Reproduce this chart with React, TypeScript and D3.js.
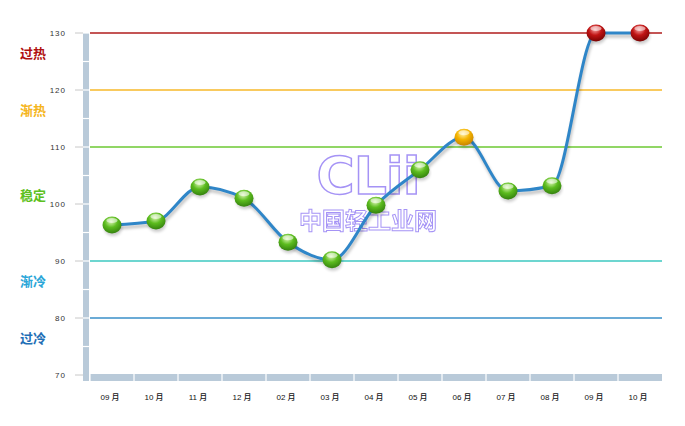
import React from "react";
import * as d3 from "d3";

const months = ["09月", "10月", "11月", "12月", "02月", "03月", "04月", "05月", "06月", "07月", "08月", "09月", "10月"];
const values = [96.3, 97.0, 103.0, 101.0, 93.3, 90.2, 99.8, 106.0, 111.7, 102.3, 103.2, 130, 130];
const pointKinds = ["g", "g", "g", "g", "g", "g", "g", "g", "y", "g", "g", "r", "r"];
const yTicks = [70, 80, 90, 100, 110, 120, 130];
const refLevels = [130, 120, 110, 90, 80];
const refColors = ["#b01c1c", "#f7b928", "#6cc832", "#3cc8c0", "#3a8fc8"];
const zoneLabels = ["过热", "渐热", "稳定", "渐冷", "过冷"];
const zoneValues = [126.5, 116.5, 101.5, 86.5, 76.5];
const zoneColors = ["#b01010", "#f5b51c", "#5cc020", "#2aa6d8", "#1f6fb6"];

const W = 685, H = 426;
const x0 = 90, x1 = 662, yTop = 33, yBot = 375;

export default function App() {
  const x = d3.scaleBand<number>().domain(months.map((_, i) => i)).range([x0, x1]);
  const y = d3.scaleLinear().domain([70, 130]).range([yBot, yTop]);
  const cx = (i: number) => (x(i) as number) + x.bandwidth() / 2;
  const line = d3.line<number>().x((_, i) => cx(i)).y((d) => y(d)).curve(d3.curveMonotoneX);
  const path = line(values) || "";
  const halfTicks = d3.range(70, 131, 5);
  const grads: Record<string, [string, string, string]> = {
    g: ["#d8f5b0", "#5cbc1e", "#2f7a0c"],
    y: ["#fff1a8", "#f4b400", "#c07a00"],
    r: ["#f7a0a0", "#c01414", "#700000"],
  };
  return (
    <svg width={W} height={H} style={{ position: "absolute", left: 0, top: 0, fontFamily: "Arial, 'Liberation Sans', sans-serif" }}>
      <defs>
        {Object.entries(grads).map(([k, c]) => (
          <radialGradient key={k} id={"g-" + k} cx="0.45" cy="0.3" r="0.75">
            <stop offset="0" stopColor={c[0]} />
            <stop offset="0.45" stopColor={c[1]} />
            <stop offset="1" stopColor={c[2]} />
          </radialGradient>
        ))}
        <filter id="sh" x="-10%" y="-10%" width="120%" height="130%">
          <feGaussianBlur stdDeviation="1.5" />
        </filter>
      </defs>
      <rect width={W} height={H} fill="#fff" />
      {/* left axis bar */}
      <rect x={83} y={yTop} width={6} height={yBot - yTop} fill="#b9cad9" />
      {halfTicks.map((v) => (
        <line key={"hs" + v} x1={83} x2={89} y1={y(v)} y2={y(v)} stroke="#fff" strokeWidth={1.2} />
      ))}
      {/* bottom axis bar */}
      <rect x={83} y={yBot - 1} width={6} height={7} fill="#b9cad9" />
      <rect x={x0} y={yBot - 1} width={x1 - x0} height={7} fill="#b9cad9" />
      {months.map((_, i) => (
        <line key={"vs" + i} x1={x(i) as number} x2={x(i) as number} y1={yBot - 1} y2={yBot + 6} stroke="#fff" strokeWidth={1.2} />
      ))}
      {/* y ticks */}
      {yTicks.map((v) => (
        <g key={"t" + v}>
          <line x1={75} x2={83} y1={y(v)} y2={y(v)} stroke="#c8c8c8" />
          <text x={66} y={y(v) + 3} fontSize={8} textAnchor="end" fill="#333" letterSpacing={1}>{v}</text>
        </g>
      ))}
      {/* reference lines */}
      {refLevels.map((v, i) => (
        <line key={"r" + v} x1={x0} x2={x1} y1={y(v)} y2={y(v)} stroke={refColors[i]} strokeWidth={1.6} />
      ))}
      {/* zone labels */}
      {zoneLabels.map((s, i) => (
        <text key={s + i} x={20} y={y(zoneValues[i]) + 5} fontSize={13} fontWeight="bold" fill={zoneColors[i]}
          fontFamily="'Noto Sans CJK SC', sans-serif">{s}</text>
      ))}
      {/* month labels */}
      {months.map((m, i) => (
        <text key={"m" + i} x={cx(i) - 2} y={400} fontSize={8} textAnchor="middle" fill="#111" fontWeight="500"
          fontFamily="Arial, 'Noto Sans CJK SC', sans-serif">{m.slice(0, 2) + " " + m.slice(2)}</text>
      ))}
      {/* watermark */}
      <g opacity={0.6}>
        <text x={368} y={194} textAnchor="middle" fontSize={52} fontWeight="bold" fill="none" stroke="#6a4cf0" strokeWidth={1.5}
          fontFamily="'DejaVu Sans', sans-serif" letterSpacing={-1}>CLii</text>
        <text x={368} y={229} textAnchor="middle" fontSize={23} fontWeight="bold" fill="none" stroke="#6a4cf0" strokeWidth={1}
          fontFamily="'Noto Sans CJK SC', sans-serif">中国轻工业网</text>
      </g>
      {/* line shadow */}
      <path d={path} transform="translate(1,3)" fill="none" stroke="#000" strokeOpacity={0.25} strokeWidth={3} filter="url(#sh)" />
      <path d={path} fill="none" stroke="#2f86c8" strokeWidth={3} />
      {/* markers */}
      {values.map((v, i) => (
        <g key={"p" + i}>
          <ellipse cx={cx(i) + 1} cy={y(v) + 3} rx={9} ry={8} fill="#000" opacity={0.2} filter="url(#sh)" />
          <ellipse cx={cx(i)} cy={y(v)} rx={9.5} ry={8.5} fill={`url(#g-${pointKinds[i]})`} />
          <ellipse cx={cx(i)} cy={y(v) - 4.5} rx={5.5} ry={2.5} fill="#fff" opacity={0.55} />
        </g>
      ))}
    </svg>
  );
}
